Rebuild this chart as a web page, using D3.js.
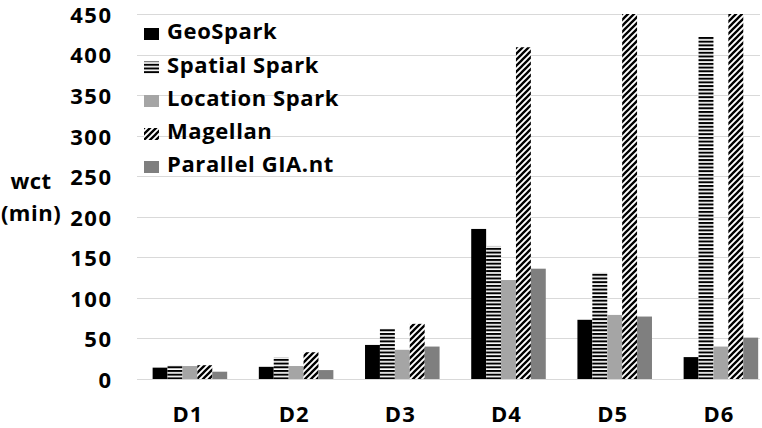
<!DOCTYPE html>
<html>
<head>
<meta charset="utf-8">
<script src="https://cdn.jsdelivr.net/npm/d3@7"></script>
<style>
  html, body { margin: 0; padding: 0; background: #fff; }
  svg { display: block; }
  text { font-family: "Open Sans", Lato, sans-serif; font-weight: bold; fill: #000; }
</style>
</head>
<body>
<svg id="chart" width="762" height="428"></svg>
<script>
// ---- data ----
const categories = ["D1", "D2", "D3", "D4", "D5", "D6"];
const seriesNames = ["GeoSpark", "Spatial Spark", "Location Spark", "Magellan", "Parallel GIA.nt"];
const geoSpark      = [14, 15, 42, 185, 73, 27];
const spatialSpark  = [17, 27, 62, 164, 131, 422];
const locationSpark = [16, 16, 36, 122, 79, 40];
const magellan      = [17, 33, 68, 409, 450, 450]; // D5, D6 run past the axis maximum
const parallelGIA   = [9, 11, 40, 136, 77, 51];
const yTicks = [0, 50, 100, 150, 200, 250, 300, 350, 400, 450];

const seriesValues = [geoSpark, spatialSpark, locationSpark, magellan, parallelGIA];

// ---- layout ----
const FONT = "'Open Sans', Lato, sans-serif";
const FS = 22;
const svg = d3.select("#chart");
const plotLeft = 137, plotRight = 760;
const bandStart = 136.8, bandWidth = 106.2;
const y = d3.scaleLinear().domain([0, 450]).range([379, 14]).clamp(true);
const x0 = d3.scaleBand().domain(categories)
  .range([bandStart, bandStart + bandWidth * categories.length]).padding(0);
const bw = x0.bandwidth();
const x1 = d3.scaleBand().domain(seriesNames).range([bw * 0.149, bw * 0.851]).padding(0);

// ---- patterns ----
const defs = svg.append("defs");
const hp = defs.append("pattern").attr("id", "hstripe")
  .attr("patternUnits", "userSpaceOnUse").attr("width", 8).attr("height", 3.7);
hp.append("rect").attr("width", 8).attr("height", 3.7).attr("fill", "#fff");
hp.append("rect").attr("width", 8).attr("height", 2).attr("fill", "#000");

const dp = defs.append("pattern").attr("id", "diag")
  .attr("patternUnits", "userSpaceOnUse").attr("width", 6).attr("height", 6);
dp.append("rect").attr("width", 6).attr("height", 6).attr("fill", "#fff");
dp.append("path").attr("d", "M-1.5,1.5 L1.5,-1.5 M0,6 L6,0 M4.5,7.5 L7.5,4.5")
  .attr("stroke", "#000").attr("stroke-width", 2.3);

const fills = ["#000000", "url(#hstripe)", "#a5a5a5", "url(#diag)", "#7f7f7f"];

// ---- gridlines ----
svg.append("g").selectAll("line").data(yTicks).join("line")
  .attr("x1", plotLeft).attr("x2", plotRight)
  .attr("y1", d => Math.round(y(d)) + 0.5).attr("y2", d => Math.round(y(d)) + 0.5)
  .attr("stroke", "#d9d9d9").attr("stroke-width", 1);

// ---- y axis tick labels ----
const yAxis = d3.axisLeft(y).tickValues(yTicks).tickSize(0).tickPadding(0);
const yg = svg.append("g").attr("transform", "translate(112.5,0)").call(yAxis);
yg.select(".domain").remove();
yg.selectAll("text").attr("font-size", FS).attr("dy", "0.38em")
  .style("font-family", FONT).style("font-weight", "bold").style("letter-spacing", "1.5px");

// ---- axis title ----
svg.append("text").attr("x", 31).attr("y", 189).attr("text-anchor", "middle")
  .attr("font-size", FS).style("letter-spacing", "0.5px").text("wct");
svg.append("text").attr("x", 31).attr("y", 221).attr("text-anchor", "middle")
  .attr("font-size", FS).style("letter-spacing", "0.5px").text("(min)");

// ---- bars ----
const rows = [];
categories.forEach((c, ci) => {
  seriesNames.forEach((s, si) => {
    rows.push({ cat: c, series: s, si: si, value: seriesValues[si][ci] });
  });
});
svg.append("g").selectAll("rect").data(rows).join("rect")
  .attr("x", d => x0(d.cat) + x1(d.series))
  .attr("width", x1.bandwidth())
  .attr("y", d => y(d.value))
  .attr("height", d => y(0) - y(d.value))
  .attr("fill", d => fills[d.si]);

// ---- x axis labels ----
const xAxis = d3.axisBottom(x0).tickSize(0).tickPadding(0);
const xg = svg.append("g").attr("transform", "translate(-2,422)").call(xAxis);
xg.select(".domain").remove();
xg.selectAll("text").attr("font-size", FS).attr("y", 0).attr("dy", 0)
  .style("font-family", FONT).style("font-weight", "bold").style("letter-spacing", "1px");

// ---- legend ----
const legend = svg.append("g");
const rowY = [34, 67.5, 101, 134, 167];
seriesNames.forEach((s, i) => {
  const g = legend.append("g").attr("transform", `translate(0,${rowY[i]})`);
  g.append("rect").attr("x", 144).attr("y", -6).attr("width", 15).attr("height", 12)
    .attr("fill", fills[i]);
  g.append("text").attr("x", 167).attr("y", 5)
    .attr("font-size", FS).style("letter-spacing", "0.6px").text(s);
});
</script>
</body>
</html>
